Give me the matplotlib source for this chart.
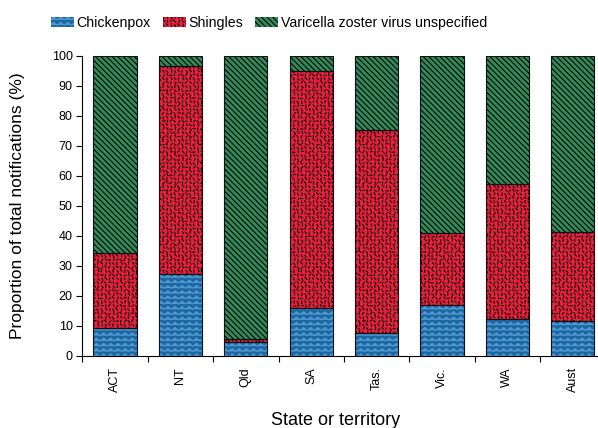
import warnings
warnings.filterwarnings("ignore")
import numpy as np
import matplotlib
matplotlib.use("Agg")
import matplotlib.pyplot as plt
import matplotlib.hatch as mhatch
from matplotlib.path import Path
from matplotlib.patches import Patch

# ---------------- data ----------------
states = ["ACT", "NT", "Qld", "SA", "Tas.", "Vic.", "WA", "Aust"]
chickenpox = [9.3, 27.2, 4.8, 15.9, 7.8, 16.9, 12.2, 11.8]
shingles = [24.9, 69.6, 0.8, 79.2, 67.5, 24.0, 45.0, 29.4]
unspecified = [100 - c - s for c, s in zip(chickenpox, shingles)]
series_names = ["Chickenpox", "Shingles", "Varicella zoster virus unspecified"]

# ---------------- custom textures ----------------
class ZigZagHatch(mhatch.HatchPatternBase):
    """Horizontal zig-zag lines, triggered by 'z'."""
    def __init__(self, hatch, density):
        n = hatch.count('z')
        self.rows = 19 * n
        self.periods = 14
        self.pts = 2 * self.periods + 1
        self.num_vertices = self.rows * self.pts if n else 0

    def set_vertices_and_codes(self, vertices, codes):
        amp = 0.014
        xs = np.linspace(0, 1, self.pts)
        k = 0
        for r in range(self.rows):
            y0 = (r + 0.5) / self.rows
            for i, x in enumerate(xs):
                vertices[k] = (x, y0 + (amp if i % 2 else -amp))
                codes[k] = Path.MOVETO if i == 0 else Path.LINETO
                k += 1


class DashHatch(mhatch.HatchPatternBase):
    """Short dashes at varying angles, triggered by 'r'."""
    def __init__(self, hatch, density):
        n = hatch.count('r')
        self.g = 26
        self.num_vertices = 2 * self.g * self.g if n else 0

    def set_vertices_and_codes(self, vertices, codes):
        g = self.g
        cell = 1.0 / g
        L = 0.022
        angles = [0, np.pi / 2, np.pi / 4, 3 * np.pi / 4, np.pi / 3, 2 * np.pi / 3]
        k = 0
        for i in range(g):
            for j in range(g):
                h = (i * 7 + j * 13 + i * j * 3) % 6
                jx = ((i * 5 + j * 11) % 7 - 3) / 7 * 0.3 * cell
                jy = ((i * 3 + j * 17) % 5 - 2) / 5 * 0.3 * cell
                cx = (i + 0.5) * cell + jx
                cy = (j + 0.5) * cell + jy
                a = angles[h]
                dx, dy = 0.5 * L * np.cos(a), 0.5 * L * np.sin(a)
                vertices[k] = (cx - dx, cy - dy)
                codes[k] = Path.MOVETO
                vertices[k + 1] = (cx + dx, cy + dy)
                codes[k + 1] = Path.LINETO
                k += 2


mhatch._hatch_types.extend([ZigZagHatch, DashHatch])
mhatch._validate_hatch_pattern = lambda h: None

plt.rcParams['font.family'] = ['Liberation Sans', 'DejaVu Sans']
plt.rcParams['hatch.linewidth'] = 0.8

face_colors = ["#1b67a2", "#e8203e", "#2f8d5c"]
hatch_colors = ["#5298d0", "#000000", "#000000"]
hatches = ["z", "r", "\\\\\\\\\\\\"]

fig = plt.figure(figsize=(5.98, 4.28), dpi=100)
ax = fig.add_axes([82.3 / 598, 72 / 428, 523.2 / 598, 300 / 428])

x = np.arange(len(states))
width = 0.66
bottoms = np.zeros(len(states))
for vals, fc, hc, hp in zip([chickenpox, shingles, unspecified], face_colors, hatch_colors, hatches):
    ax.bar(x, vals, width, bottom=bottoms, color=fc, edgecolor=hc, linewidth=0, hatch=hp, zorder=2)
    ax.bar(x, vals, width, bottom=bottoms, fill=False, edgecolor="#111111", linewidth=0.8, zorder=3)
    bottoms = bottoms + np.array(vals)

ax.set_xlim(-0.5, len(states) - 0.5)
ax.set_ylim(0, 100)
ax.set_yticks(np.arange(0, 101, 10))
ax.tick_params(axis='y', direction='out', length=4, width=0.8, pad=3, labelsize=9)

ax.set_xticks(np.arange(-0.5, len(states) + 0.5, 1.0))
ax.set_xticklabels([])
ax.tick_params(axis='x', which='major', direction='out', length=4, width=0.8)
ax.set_xticks(x, minor=True)
ax.set_xticklabels(states, minor=True, rotation=90, fontsize=9)
ax.tick_params(axis='x', which='minor', length=0, pad=8)

for s in ['top', 'right']:
    ax.spines[s].set_visible(False)
for s in ['left', 'bottom']:
    ax.spines[s].set_linewidth(0.8)

ax.set_ylabel("Proportion of total notifications (%)", fontsize=12.5)
ax.yaxis.set_label_coords(-0.11, 0.5)
ax.set_xlabel("State or territory", fontsize=13)
ax.xaxis.set_label_coords(0.485, -0.187)

handles = [Patch(facecolor=fc, edgecolor=hc, linewidth=0, hatch=hp)
           for fc, hc, hp in zip(face_colors, hatch_colors, hatches)]
fig.legend(handles, series_names, loc='center', bbox_to_anchor=(0.45, 0.946), ncol=3,
           frameon=False, fontsize=10.2, handlelength=1.6, handleheight=0.75,
           handletextpad=0.2, columnspacing=0.85, borderaxespad=0)

fig.savefig("out.png", dpi=100)
